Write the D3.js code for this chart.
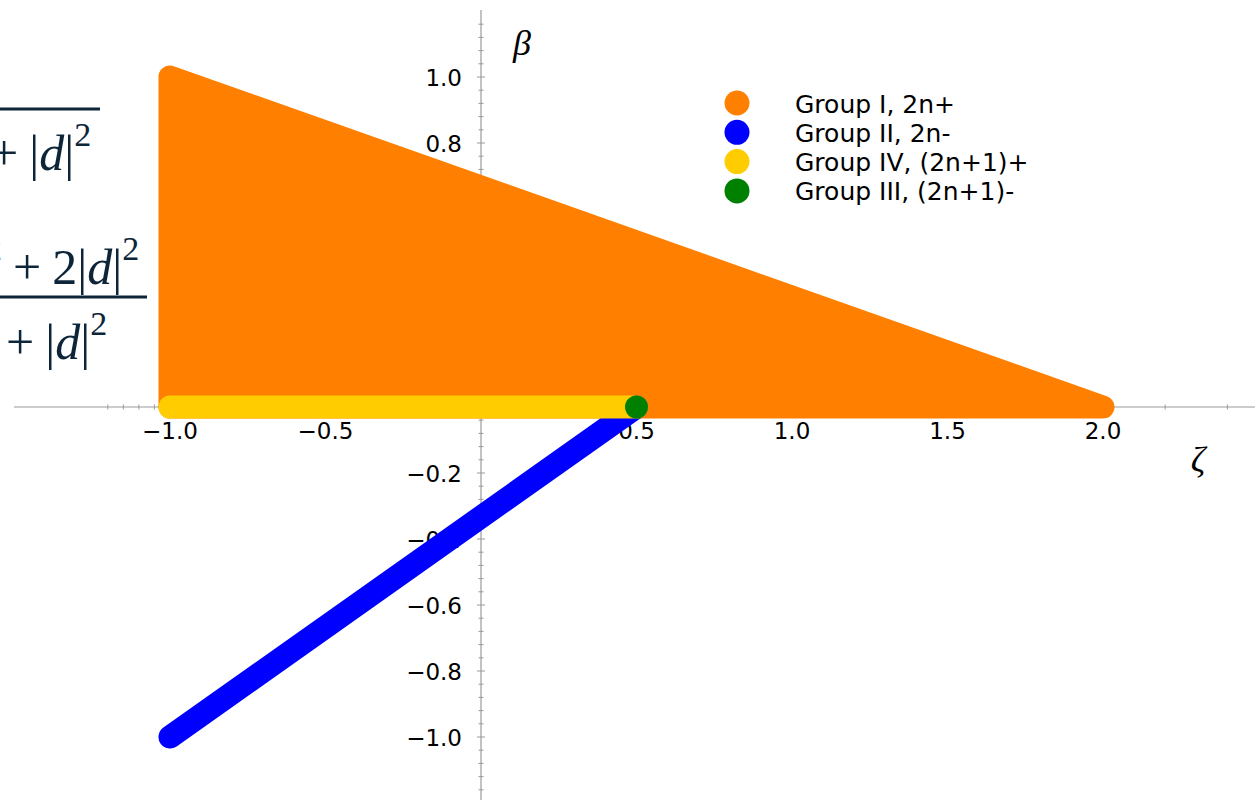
<!DOCTYPE html>
<html>
<head>
<meta charset="utf-8">
<script src="https://cdn.jsdelivr.net/npm/d3@7"></script>
<style>
  body { margin: 0; background: #fff; }
  .tick-label { font-family: "DejaVu Sans", sans-serif; font-size: 23px; fill: #000; }
  .legend-text { font-family: "DejaVu Sans", sans-serif; font-size: 25px; fill: #000; }
  .math { font-family: "Liberation Serif", "DejaVu Serif", serif; font-size: 50px; fill: #0d2538; }
</style>
</head>
<body>
<div class="canva"></div>
<script>
// data (zeta, beta)
const groupIZeta = [-1.0, -1.0, 2.0];   // corners of the filled region
const groupIBeta = [0.0, 1.0, 0.0];
const groupIIZeta = [-1.0, 0.5];
const groupIIBeta = [-1.0, 0.0];
const groupIVZeta = [-1.0, 0.5];
const groupIVBeta = [0.0, 0.0];
const groupIIIZeta = [0.5];
const groupIIIBeta = [0.0];

const legendLabels = ["Group I, 2n+", "Group II, 2n-", "Group IV, (2n+1)+", "Group III, (2n+1)-"];
const legendColors = ["#ff8000", "#0000ff", "#ffcc00", "#008000"];

const xTicks = [-1.0, -0.5, 0.5, 1.0, 1.5, 2.0];
const xTickLabels = ["\u22121.0", "\u22120.5", "0.5", "1.0", "1.5", "2.0"];
const xMinor = [-1.2, -1.15, -1.1, -1.05, 2.2, 2.4];
const yTicks = [1.0, 0.8, 0.6, 0.4, 0.2, -0.2, -0.4, -0.6, -0.8, -1.0];
const yTickLabels = ["1.0", "0.8", "0.6", "0.4", "0.2", "\u22120.2", "\u22120.4", "\u22120.6", "\u22120.8", "\u22121.0"];
const yMinor = d3.range(-29, 31).map(i => i * 0.04).filter(v => Math.abs(v * 5 - Math.round(v * 5)) > 1e-6);

const width = 1255, height = 800;

const svg = d3.select(".canva").append("svg")
    .attr("width", width)
    .attr("height", height);

// scales
const x = d3.scaleLinear().domain([-1, 2]).range([170, 1103]);
const y = d3.scaleLinear().domain([-1, 1]).range([737, 77]);

const axisColor = "#9a9a9a";
const markerSize = 23;

// cropped formulas on the left
const math = svg.append("g");
math.append("line").attr("x1", 0).attr("x2", 100).attr("y1", 109).attr("y2", 109)
    .attr("stroke", "#0d2538").attr("stroke-width", 3);
math.append("line").attr("x1", 0).attr("x2", 147).attr("y1", 297).attr("y2", 297)
    .attr("stroke", "#0d2538").attr("stroke-width", 3);

function formula(xStart, yBase, parts) {
    const t = math.append("text").attr("class", "math")
        .attr("x", xStart).attr("y", yBase);
    parts.forEach(p => {
        const s = t.append("tspan").text(p.t);
        if (p.i) s.attr("font-style", "italic");
        if (p.sup) s.attr("font-size", "34px");
        if (p.dy) s.attr("dy", p.dy);
        if (p.dx) s.attr("dx", p.dx);
    });
}
formula(-10, 170, [{t: "+"}, {t: "|", dx: 11}, {t: "d", i: true}, {t: "|"}, {t: "2", sup: true, dy: -24}]);
formula(-15, 284, [{t: "2", sup: true, dy: -24}, {t: "+", dx: 11, dy: 24}, {t: "2", dx: 11}, {t: "|"}, {t: "d", i: true}, {t: "|"}, {t: "2", sup: true, dy: -24}]);
formula(6, 359, [{t: "+"}, {t: "|", dx: 11}, {t: "d", i: true}, {t: "|"}, {t: "2", sup: true, dy: -24}]);

// axes
const axes = svg.append("g");
axes.append("line").attr("x1", 14).attr("x2", width).attr("y1", y(0)).attr("y2", y(0))
    .attr("stroke", axisColor).attr("stroke-width", 1.2);
axes.append("line").attr("x1", x(0)).attr("x2", x(0)).attr("y1", 10).attr("y2", height)
    .attr("stroke", axisColor).attr("stroke-width", 1.2);

axes.selectAll(".xmaj").data(xTicks).enter().append("line")
    .attr("x1", d => x(d)).attr("x2", d => x(d))
    .attr("y1", y(0) - 4).attr("y2", y(0) + 4)
    .attr("stroke", axisColor);
axes.selectAll(".xmin").data(xMinor).enter().append("line")
    .attr("x1", d => x(d)).attr("x2", d => x(d))
    .attr("y1", y(0) - 2.5).attr("y2", y(0) + 2.5)
    .attr("stroke", axisColor);
axes.selectAll(".ymaj").data(yTicks).enter().append("line")
    .attr("x1", x(0) - 4).attr("x2", x(0) + 4)
    .attr("y1", d => y(d)).attr("y2", d => y(d))
    .attr("stroke", axisColor);
axes.selectAll(".ymin").data(yMinor).enter().append("line")
    .attr("x1", x(0) - 2.5).attr("x2", x(0) + 2.5)
    .attr("y1", d => y(d)).attr("y2", d => y(d))
    .attr("stroke", axisColor);

axes.selectAll(".xlab").data(xTicks).enter().append("text")
    .attr("class", "tick-label")
    .attr("x", d => x(d)).attr("y", y(0) + 24)
    .attr("text-anchor", "middle").attr("dominant-baseline", "central")
    .text((d, i) => xTickLabels[i]);
axes.selectAll(".ylab").data(yTicks).enter().append("text")
    .attr("class", "tick-label")
    .attr("x", x(0) - 19).attr("y", d => y(d) + 1)
    .attr("text-anchor", "end").attr("dominant-baseline", "central")
    .text((d, i) => yTickLabels[i]);

// axis names
svg.append("text").attr("x", 522).attr("y", 55).attr("text-anchor", "middle")
    .style("font-family", "Liberation Serif, serif").style("font-style", "italic")
    .style("font-size", "36px").text("\u03B2");
svg.append("text").attr("x", 1198).attr("y", 472).attr("text-anchor", "middle")
    .style("font-family", "Liberation Serif, serif").style("font-style", "italic")
    .style("font-size", "36px").text("\u03B6");

// Group I region
const groupI = groupIZeta.map((d, i) => [x(d), y(groupIBeta[i])]);
svg.append("path")
    .attr("d", "M" + groupI.join("L") + "Z")
    .attr("fill", legendColors[0])
    .attr("stroke", legendColors[0])
    .attr("stroke-width", markerSize)
    .attr("stroke-linejoin", "round");

// Group II, IV as thick lines
const line = d3.line().x(d => x(d[0])).y(d => y(d[1]));
svg.append("path")
    .datum(groupIIZeta.map((d, i) => [d, groupIIBeta[i]]))
    .attr("d", line)
    .attr("fill", "none").attr("stroke", legendColors[1])
    .attr("stroke-width", markerSize).attr("stroke-linecap", "round");
svg.append("path")
    .datum(groupIVZeta.map((d, i) => [d, groupIVBeta[i]]))
    .attr("d", line)
    .attr("fill", "none").attr("stroke", legendColors[2])
    .attr("stroke-width", markerSize).attr("stroke-linecap", "round");

// Group III point
svg.selectAll(".g3").data(groupIIIZeta).enter().append("circle")
    .attr("cx", d => x(d)).attr("cy", (d, i) => y(groupIIIBeta[i]))
    .attr("r", markerSize / 2)
    .attr("fill", legendColors[3]);

// legend
const legend = svg.append("g");
legend.selectAll("circle").data(legendLabels).enter().append("circle")
    .attr("cx", 737).attr("cy", (d, i) => 103 + i * 29.3)
    .attr("r", 12.5)
    .attr("fill", (d, i) => legendColors[i]);
legend.selectAll("text").data(legendLabels).enter().append("text")
    .attr("class", "legend-text")
    .attr("x", 795).attr("y", (d, i) => 104 + i * 29.3)
    .attr("dominant-baseline", "central")
    .text(d => d);
</script>
</body>
</html>
